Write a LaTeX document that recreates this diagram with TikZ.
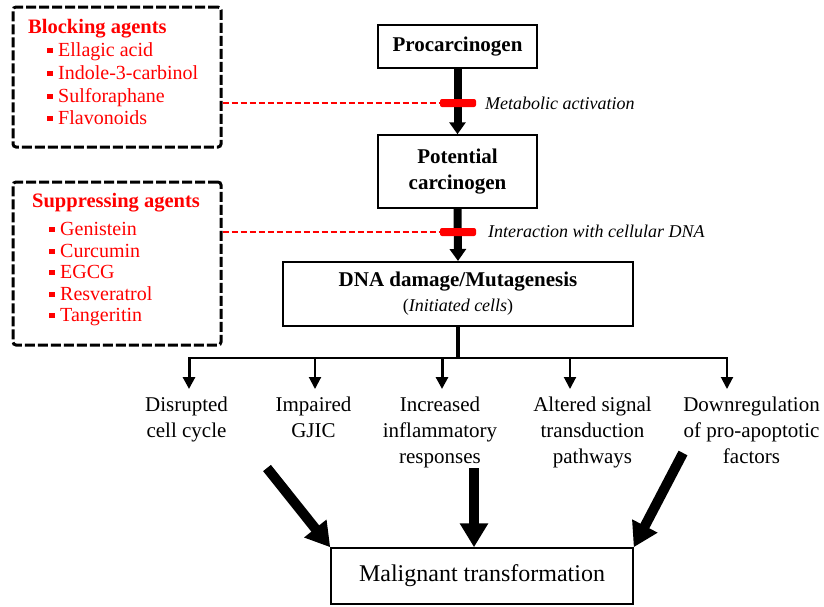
\documentclass[tikz,border=0pt]{standalone}
\usepackage{fontspec}
\setmainfont{Liberation Serif}
\usetikzlibrary{arrows.meta}
\newcommand\fsNorm{\fontsize{21}{26}\selectfont}
\newcommand\fsItem{\fontsize{20}{23}\selectfont}
\newcommand\fsHead{\fontsize{20.5}{24}\selectfont}
\newcommand\fsIt{\fontsize{18}{22}\selectfont}
\newcommand\fsBig{\fontsize{24}{28}\selectfont}
\newcommand\bul{\rule[3pt]{5.5pt}{5.5pt}\hspace{5.5pt}}
\begin{document}
\begin{tikzpicture}[x=1pt,y=-1pt,
  agentbox/.style={draw, line width=3pt, dash pattern=on 10pt off 3pt, rounded corners=3pt, inner sep=0pt},
  stagebox/.style={draw, line width=1.5pt, inner sep=0pt, font=\fsNorm\bfseries, align=center},
  redline/.style={red, line width=2pt, dash pattern=on 6pt off 3pt},
  redbar/.style={fill=red, draw=none, rounded corners=2pt, inner sep=0pt},
  bigarrow/.style={line width=8pt, -{Triangle[width=16pt,length=12pt]}},
  brarrow/.style={line width=3pt, -{Triangle[width=12pt,length=12pt]}},
  thinbr/.style={line width=2pt, -{Triangle[width=12pt,length=12pt]}},
  fatarrow/.style={line width=10pt, -{Triangle[width=27pt,length=24pt]}},
  redhead/.style={anchor=base west, inner sep=0pt, text=red, font=\fsHead\rmfamily\bfseries},
  reditem/.style={anchor=base west, inner sep=0pt, text=red, font=\fsItem\rmfamily\mdseries},
  itlabel/.style={anchor=base west, inner sep=0pt, font=\fsIt\itshape},
  outcome/.style={anchor=north, inner sep=0pt, align=center, font=\fsNorm}
]
\useasboundingbox (0,0) rectangle (824,606);

% agent boxes
\node[agentbox, minimum width=208pt, minimum height=140pt] (blk) at (117,77) {};
\node[agentbox, minimum width=208pt, minimum height=163pt] (sup) at (117,263.5) {};

\node[redhead] (bh) at (28,33) {Blocking agents};
\node[reditem] (b1) at (47,56) {\bul Ellagic acid};
\node[reditem] (b2) at (47,79) {\bul Indole-3-carbinol};
\node[reditem] (b3) at (47,102) {\bul Sulforaphane};
\node[reditem] (b4) at (47,124) {\bul Flavonoids};

\node[redhead] (sh) at (32,207) {Suppressing agents};
\node[reditem] (s1) at (49,235) {\bul Genistein};
\node[reditem] (s2) at (49,257) {\bul Curcumin};
\node[reditem] (s3) at (49,278) {\bul EGCG};
\node[reditem] (s4) at (49,300) {\bul Resveratrol};
\node[reditem] (s5) at (49,321) {\bul Tangeritin};

% main chain
\node[stagebox, minimum width=159pt, minimum height=43pt] (proc) at (457.5,46.5) {Procarcinogen};
\node[stagebox, minimum width=159pt, minimum height=73pt] (pot) at (457.5,171.5) {Potential\\carcinogen};
\node[stagebox, line width=2pt, minimum width=350pt, minimum height=64pt] (dna) at (458,294)
  {DNA damage/Mutagenesis\\[-1pt]{\fsIt\mdseries(\textit{Initiated cells})}};

\draw[bigarrow] (proc.south) -- (pot.north);
\draw[bigarrow] (pot.south) -- (dna.north);

\node[redbar, minimum width=36pt, minimum height=8pt] (bar1) at (458,103) {};
\node[redbar, minimum width=36pt, minimum height=8pt] (bar2) at (458,232) {};
\draw[redline] (blk.east |- bar1.west) -- (bar1.west);
\draw[redline] (sup.east |- bar2.west) -- (bar2.west);

\node[itlabel] (ma) at (485,109) {Metabolic activation};
\node[itlabel] (ic) at (488,237) {Interaction with cellular DNA};

% branches
\coordinate (j1) at (189,358);
\coordinate (j2) at (315,358);
\coordinate (j3) at (442,358);
\coordinate (j4) at (570,358);
\coordinate (j5) at (727,358);
\coordinate (e1) at (189,389);
\coordinate (e2) at (315,389);
\coordinate (e3) at (442,389);
\coordinate (e4) at (570,389);
\coordinate (e5) at (727,389);

\draw[line width=3.5pt] (dna.south) -- (dna.south |- j1);
\draw[line width=2.5pt, line cap=rect] (j1) -- (j5);
\draw[brarrow] (j1) -- (e1);
\draw[thinbr] (j2) -- (e2);
\draw[brarrow] (j3) -- (e3);
\draw[thinbr] (j4) -- (e4);
\draw[thinbr] (j5) -- (e5);

\node[outcome] (o1) at (186.5,397) {Disrupted\\cell cycle};
\node[outcome] (o2) at (313.5,397) {Impaired\\GJIC};
\node[outcome] (o3) at (440,397) {Increased\\inflammatory\\responses};
\node[outcome] (o4) at (592.5,397) {Altered signal\\transduction\\pathways};
\node[outcome] (o5) at (751.5,397) {Downregulation\\of pro-apoptotic\\factors};

% malignant transformation
\node[draw, line width=1.5pt, inner sep=0pt, minimum width=302pt, minimum height=56pt, font=\fsBig] (mal) at (482,576) {Malignant transformation};

\coordinate (f1) at (267,468);
\coordinate (f2) at (474,468);
\coordinate (f3) at (683,453);
\draw[fatarrow] (f1) -- (mal.north west);
\draw[fatarrow] (f2) -- (f2 |- mal.north);
\draw[fatarrow] (f3) -- (mal.north east);
\end{tikzpicture}
\end{document}
